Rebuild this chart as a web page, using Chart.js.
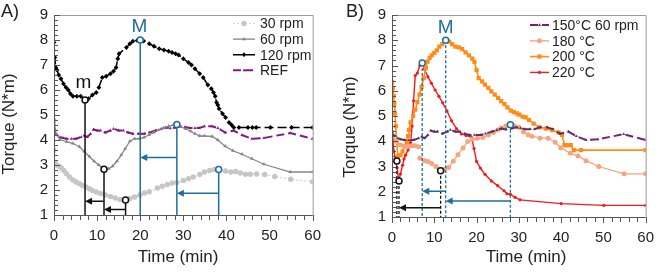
<!DOCTYPE html>
<html>
<head>
<meta charset="utf-8">
<script src="https://cdn.jsdelivr.net/npm/chart.js@4.4.1/dist/chart.umd.min.js"></script>
<style>
  body { margin: 0; background: #fff; }
  #wrap { display: flex; width: 666px; height: 272px; }
  #wrap div { position: relative; width: 333px; height: 272px; }
</style>
</head>
<body>
<div id="wrap">
  <div><canvas id="chartA" width="333" height="272"></canvas></div>
  <div><canvas id="chartB" width="333" height="272"></canvas></div>
</div>
<script>
// Panel A - torque vs time at different rotor speeds
const t30 = [0,0.2,0.6,1.2,1.7,2.3,2.9,3.6,4.4,5.1,5.9,6.6,7.4,8.2,8.9,9.8,10.8,11.9,13.1,14.2,15.3,16.6,17.6,18.7,19.9,21.0,22.1,24.0,25.1,26.3,27.4,28.5,30.0,31.2,32.3,33.8,34.9,36.1,37.2,38.2,39.8,41.0,42.1,43.2,44.4,45.5,47.0,48.9,51.2,54.9,60];
const v30 = [3.6,3.1,3.0,2.95,2.88,2.78,2.65,2.52,2.4,2.32,2.25,2.18,2.12,2.05,1.98,1.92,1.86,1.8,1.74,1.68,1.62,1.6,1.66,1.72,1.8,1.88,1.93,2.08,2.15,2.22,2.28,2.3,2.38,2.45,2.52,2.62,2.72,2.78,2.82,2.82,2.76,2.72,2.74,2.68,2.63,2.63,2.64,2.62,2.54,2.43,2.33];

const t60 = [0,0.2,0.6,1.4,2.9,4.4,5.9,7.0,8.2,9.3,10.4,11.6,12.7,13.6,14.6,15.6,16.5,17.6,18.7,19.8,20.9,22.0,23.2,24.3,25.4,26.6,27.7,28.5,29.5,30.6,31.7,32.7,33.8,34.9,36.7,38.0,39.7,41.5,43.6,45.9,48.7,54.8,60];
const v60 = [4.85,4.45,4.2,4.02,3.93,3.86,3.73,3.54,3.34,3.15,3.0,2.83,2.85,2.95,3.15,3.4,3.65,3.95,4.05,4.05,4.1,4.2,4.3,4.4,4.48,4.55,4.6,4.62,4.52,4.44,4.35,4.25,4.16,4.16,4.14,4.0,3.75,3.57,3.43,3.25,3.03,2.72,2.72];

const t120 = [0,0.2,0.4,0.7,1.1,1.6,2.2,2.8,3.3,3.8,4.4,5.3,6.2,7.2,8.0,8.9,9.8,10.4,11.2,12.1,13.1,13.8,14.4,14.8,15.1,16.8,17.6,18.3,19.3,20.0,20.8,22.1,23.2,24.4,25.5,26.6,27.4,28.2,28.9,30.0,31.2,31.9,32.7,33.8,34.6,35.7,36.5,37.0,37.4,37.7,38.0,38.3,39.1,39.8,40.6,41.2,41.7,42.9,45.0,46.0,46.9,50.2,55.1,60];
const v120 = [7.9,7.3,6.9,6.8,6.6,6.45,6.25,6.1,6.0,5.85,5.75,5.75,5.75,5.6,5.65,5.8,5.9,6.1,6.5,6.55,6.65,6.75,6.9,7.25,7.45,7.7,7.85,7.95,7.98,8.0,7.96,7.85,7.75,7.65,7.6,7.55,7.5,7.45,7.4,7.25,7.1,7.0,6.85,6.65,6.5,6.2,6.05,5.9,5.75,5.5,5.4,5.25,5.05,4.9,4.7,4.6,4.5,4.5,4.5,4.5,4.5,4.5,4.5,4.5];

// reference run (150 °C, 60 rpm), shared by both panels
const tRef = [0,0.2,0.8,1.4,2.1,2.9,4,5.1,6.3,7,7.7,8.5,9.2,10,10.8,11.9,13.1,13.8,15,16.1,17.2,18.3,19.5,21,22.1,23.6,24.8,25.9,27,28.2,29.3,30.4,31.5,32.7,33.7,34.9,36.7,38,39.7,41.7,43.6,45.9,48.7,54.8,60];
const vRef = [4.45,4.25,4.2,4.12,4.08,4.05,4.05,4.05,4.12,4.18,4.12,4.25,4.42,4.38,4.38,4.3,4.38,4.45,4.38,4.38,4.3,4.25,4.25,4.25,4.3,4.38,4.44,4.5,4.47,4.5,4.55,4.52,4.48,4.48,4.48,4.55,4.55,4.48,4.3,4.38,4.2,4.05,4.08,4.28,4.05];

// Panel B - torque vs time at different temperatures
const t180 = [0.2,1,2,3,4,4.75,5.5,6.3,6.45,6.6,7.7,8.5,9.4,10.4,11.5,12.4,13.4,14.5,15.6,16.8,17.9,19.0,20.2,21.5,22.8,24.0,25.0,25.8,26.9,27.9,29.0,30.0,31.1,32.2,33.1,35.0,36.9,38.6,39.9,42.2,44.0,45.9,48.9,54.9,60];
const v180 = [4.2,4.0,3.85,3.8,3.8,3.82,3.82,3.78,null,3.33,3.23,3.2,3.12,3.0,2.83,2.88,2.96,3.21,3.47,3.73,3.99,4.08,4.12,4.15,4.25,4.35,4.45,4.52,4.6,4.65,4.6,4.55,4.37,4.26,4.2,4.12,4.12,3.96,3.74,3.52,3.42,3.23,3.0,2.71,2.71];

const t200 = [0,0.2,0.4,0.55,0.7,0.9,1.1,1.4,2.0,2.5,3.0,3.5,3.8,4.0,4.4,5.0,5.5,6.0,6.5,7.0,7.5,8.0,8.4,8.9,9.4,10.0,10.6,11.2,11.9,12.7,13.5,14.2,15.0,15.8,16.6,17.4,18.2,19.0,19.5,20.0,20.5,21.3,22.0,22.8,23.5,24.3,25.1,25.8,26.6,27.3,28.1,28.8,29.5,30.1,30.9,31.6,32.4,33.5,34.9,36.4,37.9,39.4,40.2,40.8,41.5,42.3,43.0,44.7,60];
const v200 = [6.35,6.1,5.8,5.5,5.1,4.6,4.0,3.4,3.45,3.6,3.8,3.95,4.2,4.45,4.75,5.0,5.25,5.55,5.85,6.15,6.5,6.9,7.15,7.3,7.4,7.5,7.6,7.75,7.85,8.0,7.95,7.85,7.75,7.72,7.65,7.52,7.4,7.27,7.14,6.82,6.5,6.37,6.24,6.11,5.98,5.85,5.72,5.59,5.47,5.34,5.21,5.15,5.1,5.05,4.98,4.95,4.85,4.7,4.55,4.5,4.44,4.35,4.25,3.85,3.85,3.85,3.65,3.65,3.65];

const t220 = [0,0.2,0.45,0.75,1.2,1.6,2.0,2.5,2.85,3.2,3.8,4.4,4.75,5.1,5.5,6.0,6.6,7.2,7.7,8.5,9.3,10.2,11.1,12.0,13.0,14.1,15.3,16.4,17.5,18.8,19.4,20.0,20.9,22.0,23.5,25.0,26.5,27.2,28.0,29.1,30.3,40.0,50.1,60];
const v220 = [4.2,4.15,3.6,3.3,2.95,2.45,2.7,3.05,3.3,3.45,3.65,3.95,4.6,5.6,6.6,6.7,7.0,7.1,6.85,6.55,6.3,6.03,5.78,5.52,5.2,4.81,4.49,4.29,4.23,4.15,3.71,3.2,2.94,2.69,2.43,2.24,2.04,1.92,1.9,1.78,1.68,1.53,1.46,1.46];

// markers for minima (m) and maxima (M), with the arrows between them
const aMinT = [7.2, 11.6, 16.6];
const aMinV = [5.6, 2.83, 1.6];
const aMaxT = [20, 28.5, 38.2];
const aMaxV = [8.0, 4.62, 2.82];
const aArrowFrom = [11.6, 16.6, 28.5, 38.2];
const aArrowTo = [7.2, 11.6, 20, 28.5];
const aArrowV = [1.55, 1.22, 3.3, 1.87];

const bMinT = [1.15, 1.65, 11.5];
const bMinV = [3.22, 2.43, 2.83];
const bMaxT = [7.15, 12.7, 28.0];
const bMaxV = [7.1, 8.0, 4.65];
const bArrowFrom = [11.5, 12.7, 28.0];
const bArrowTo = [1.65, 7.15, 12.7];
const bArrowV = [1.37, 2.02, 1.63];

const FONT = "'Liberation Sans', Arial, sans-serif";
const BLUE = '#1f6e9c';
const DARK = '#222';

function pts(t, v) {
    return t.map((x, i) => ({ x: x, y: v[i] }));
}

function arrow(ctx, x1, x2, py, color) {
    const dir = x2 < x1 ? -1 : 1;
    ctx.strokeStyle = color;
    ctx.fillStyle = color;
    ctx.lineWidth = 1.5;
    ctx.setLineDash([]);
    ctx.beginPath();
    ctx.moveTo(x1, py);
    ctx.lineTo(x2 - dir * 6, py);
    ctx.stroke();
    ctx.beginPath();
    ctx.moveTo(x2, py);
    ctx.lineTo(x2 - dir * 7, py - 3.5);
    ctx.lineTo(x2 - dir * 7, py + 3.5);
    ctx.closePath();
    ctx.fill();
}

const panelDecor = {
    id: 'panelDecor',
    afterDatasetsDraw(chart, args, o) {
        const { ctx, chartArea: ca, scales: { x, y } } = chart;
        ctx.save();

        // frame: light top/right, dark axes
        ctx.lineWidth = 1;
        ctx.strokeStyle = '#9a9a9a';
        ctx.beginPath();
        ctx.moveTo(ca.left, ca.top + 0.5);
        ctx.lineTo(ca.right + 0.5, ca.top + 0.5);
        ctx.lineTo(ca.right + 0.5, ca.bottom);
        ctx.stroke();
        ctx.strokeStyle = '#555';
        ctx.beginPath();
        ctx.moveTo(ca.left + 0.5, ca.top);
        ctx.lineTo(ca.left + 0.5, ca.bottom + 0.5);
        ctx.lineTo(ca.right, ca.bottom + 0.5);
        // minor and major ticks
        for (let k = 0; k <= 40; k++) {
            const py = Math.round(y.getPixelForValue(1 + k * 0.2)) + 0.5;
            ctx.moveTo(ca.left, py);
            ctx.lineTo(ca.left + (k % 5 === 0 ? 6 : 4), py);
        }
        for (let t = 0; t <= 60; t += 2) {
            const px = Math.round(x.getPixelForValue(t)) + 0.5;
            ctx.moveTo(px, ca.bottom);
            ctx.lineTo(px, ca.bottom + (t % 10 === 0 ? 6 : 5));
        }
        ctx.stroke();

        // drop lines from minima / maxima to the time axis
        const drops = [[o.minT, o.minV, '#111'], [o.maxT, o.maxV, BLUE]];
        drops.forEach(([ts, vs, col]) => {
            ts.forEach((t, i) => {
                const px = x.getPixelForValue(t);
                ctx.strokeStyle = col;
                ctx.lineWidth = o.dashed ? 1.3 : 1.5;
                ctx.setLineDash(o.dashed ? [3, 2] : []);
                ctx.beginPath();
                ctx.moveTo(px, y.getPixelForValue(vs[i]));
                ctx.lineTo(px, ca.bottom);
                ctx.stroke();
            });
        });

        // arrows (a minimum arrow is black, a maximum arrow is blue)
        o.arrowFrom.forEach((t, i) => {
            const col = o.maxT.includes(o.arrowTo[i]) ? BLUE : '#111';
            arrow(ctx, x.getPixelForValue(t), x.getPixelForValue(o.arrowTo[i]), y.getPixelForValue(o.arrowV[i]), col);
        });

        // open circles on top
        ctx.setLineDash([]);
        drops.forEach(([ts, vs, col]) => {
            ts.forEach((t, i) => {
                ctx.beginPath();
                ctx.arc(x.getPixelForValue(t), y.getPixelForValue(vs[i]), 3, 0, Math.PI * 2);
                ctx.fillStyle = '#fff';
                ctx.fill();
                ctx.strokeStyle = col;
                ctx.lineWidth = 1.5;
                ctx.stroke();
            });
        });

        // m / M letters
        ctx.font = '19px ' + FONT;
        ctx.textAlign = 'center';
        ctx.textBaseline = 'middle';
        o.letters.forEach(l => {
            ctx.fillStyle = l.color;
            ctx.fillText(l.text, x.getPixelForValue(l.t), y.getPixelForValue(l.v));
        });

        // legend inside the plot
        const lg = o.legend;
        ctx.textAlign = 'left';
        ctx.font = '14px ' + FONT;
        chart.data.datasets.forEach((ds, i) => {
            const py = lg.y0 + i * lg.dy;
            ctx.strokeStyle = ds.borderColor;
            ctx.lineWidth = ds.borderWidth;
            ctx.setLineDash(ds.borderDash || []);
            ctx.beginPath();
            ctx.moveTo(lg.x0, py);
            ctx.lineTo(lg.x1, py);
            ctx.stroke();
            ctx.setLineDash([]);
            ctx.fillStyle = ds.pointBackgroundColor || ds.borderColor;
            Chart.helpers.drawPoint(ctx, { pointStyle: ds.pointStyle, radius: ds.pointRadius, rotation: 0, borderWidth: 0 }, (lg.x0 + lg.x1) / 2, py);
            ctx.fillStyle = DARK;
            ctx.fillText(ds.label, lg.tx, py + 1);
        });

        // panel letter and axis titles
        ctx.fillStyle = DARK;
        ctx.font = '18px ' + FONT;
        ctx.textAlign = 'left';
        ctx.fillText(o.panel, o.panelX, 12);
        ctx.font = '17px ' + FONT;
        ctx.textAlign = 'center';
        ctx.textBaseline = 'alphabetic';
        ctx.fillText('Time (min)', o.xTitleX, 262);
        ctx.translate(o.yTitleX, o.yTitleY);
        ctx.rotate(-Math.PI / 2);
        ctx.textBaseline = 'middle';
        ctx.fillText('Torque (N*m)', 0, 0);
        ctx.restore();
    }
};

function makeChart(id, datasets, deco) {
    return new Chart(document.getElementById(id), {
        type: 'line',
        data: { datasets: datasets },
        options: {
            responsive: false,
            animation: false,
            layout: { padding: { top: 10, right: deco.padRight, left: 0, bottom: 0 } },
            elements: { line: { tension: 0 } },
            plugins: {
                legend: { display: false },
                tooltip: { enabled: false },
                panelDecor: deco
            },
            scales: {
                x: {
                    type: 'linear',
                    min: 0,
                    max: 60,
                    afterFit: function(s) { s.height = deco.xHeight; },
                    grid: { display: false, drawTicks: false },
                    border: { display: false },
                    ticks: { stepSize: 10, padding: 12, color: DARK, font: { family: FONT, size: 15 } }
                },
                y: {
                    min: 1,
                    max: 9,
                    afterFit: function(s) { s.width = deco.yWidth; },
                    grid: { display: false, drawTicks: false },
                    border: { display: false },
                    ticks: { stepSize: 1, padding: 6, color: DARK, font: { family: FONT, size: 15 } }
                }
            }
        },
        plugins: [panelDecor]
    });
}

makeChart('chartA', [
    { label: '30 rpm', data: pts(t30, v30), borderColor: '#c6c6c6', backgroundColor: '#c6c6c6', borderWidth: 1.2, borderDash: [1.5, 2.5], pointStyle: 'circle', pointRadius: 2.7, pointBorderWidth: 0 },
    { label: '60 rpm', data: pts(t60, v60), borderColor: '#858585', backgroundColor: '#858585', borderWidth: 1.3, pointStyle: 'triangle', pointRadius: 2.2, pointBorderWidth: 0 },
    { label: '120 rpm', data: pts(t120, v120), borderColor: '#000', backgroundColor: '#000', borderWidth: 1.5, borderDash: [9, 4], pointStyle: 'rectRot', pointRadius: 2.4, pointBorderWidth: 0 },
    { label: 'REF', data: pts(tRef, vRef), borderColor: '#84197f', backgroundColor: '#84197f', borderWidth: 2, borderDash: [8, 4], pointStyle: 'triangle', pointRadius: 1.8, pointBorderWidth: 0 }
], {
    padRight: 14, xHeight: 57, yWidth: 54,
    minT: aMinT, minV: aMinV, maxT: aMaxT, maxV: aMaxV,
    arrowFrom: aArrowFrom, arrowTo: aArrowTo, arrowV: aArrowV,
    dashed: false,
    letters: [{ text: 'm', t: 6.8, v: 6.3, color: '#111' }, { text: 'M', t: 19.8, v: 8.52, color: BLUE }],
    legend: { x0: 233, x1: 255, tx: 260, y0: 23.5, dy: 15.6 },
    panel: 'A)', panelX: 1, xTitleX: 178, yTitleX: 9, yTitleY: 124
});

makeChart('chartB', [
    { label: '150°C 60 rpm', data: pts(tRef, vRef), borderColor: '#7d1c80', backgroundColor: '#7d1c80', pointBackgroundColor: '#444', borderWidth: 2, borderDash: [8, 4], pointStyle: 'triangle', pointRadius: 1.8, pointBorderWidth: 0 },
    { label: '180 °C', data: pts(t180, v180), borderColor: '#f8a47e', backgroundColor: '#f8a47e', borderWidth: 1.3, pointStyle: 'circle', pointRadius: 2.5, pointBorderWidth: 0, spanGaps: false },
    { label: '200 °C', data: pts(t200, v200), borderColor: '#ff8c1a', backgroundColor: '#ff8c1a', borderWidth: 1.6, pointStyle: 'rect', pointRadius: 3, pointBorderWidth: 0 },
    { label: '220 °C', data: pts(t220, v220), borderColor: '#f01c1c', backgroundColor: '#f01c1c', borderWidth: 1.4, pointStyle: 'circle', pointRadius: 1.6, pointBorderWidth: 0 }
], {
    padRight: 9, xHeight: 55, yWidth: 59,
    minT: bMinT, minV: bMinV, maxT: bMaxT, maxV: bMaxV,
    arrowFrom: bArrowFrom, arrowTo: bArrowTo, arrowV: bArrowV,
    dashed: true,
    letters: [{ text: 'M', t: 12.7, v: 8.5, color: BLUE }],
    legend: { x0: 197, x1: 216, tx: 219, y0: 25, dy: 15.8 },
    panel: 'B)', panelX: 13, xTitleX: 193, yTitleX: 17, yTitleY: 127
});
</script>
</body>
</html>
